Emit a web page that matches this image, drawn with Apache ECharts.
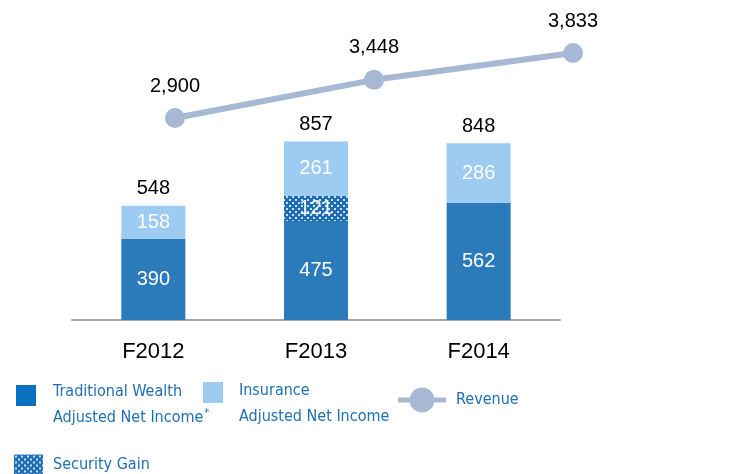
<!DOCTYPE html>
<html>
<head>
<meta charset="utf-8">
<script src="https://cdn.jsdelivr.net/npm/echarts@6/dist/echarts.min.js"></script>
<style>
  html, body { margin: 0; padding: 0; background: #fff; }
  #chart { width: 748px; height: 474px; }
</style>
</head>
<body>
<div id="chart"></div>
<script>
const categories = ['F2012', 'F2013', 'F2014'];
const traditional = [390, 475, 562];
const securityGain = [null, 121, null];
const insurance = [158, 261, 286];
const totals = [548, 857, 848];
const revenue = [2900, 3448, 3833];

const darkBlue = '#2b7bba';
const lightBlue = '#9dcbf1';
const lineColor = '#a7b8d5';
const legendBlue = '#1f6fb4';
const numFont = '"Liberation Sans", Arial, sans-serif';
const legendFont = '"DejaVu Sans Condensed", sans-serif';

// dotted fill for the security gain block
const makeDots = () => {
  const c = document.createElement('canvas');
  c.width = 6;
  c.height = 6;
  const ctx = c.getContext('2d');
  ctx.fillStyle = '#1f6db5';
  ctx.fillRect(0, 0, 6, 6);
  ctx.fillStyle = 'rgba(235,245,255,0.85)';
  ctx.fillRect(1, 1, 2, 2);
  ctx.fillRect(4, 4, 2, 2);
  return c;
};
const dots = { image: makeDots(), repeat: 'repeat' };

const chart = echarts.init(document.getElementById('chart'));

const legendText = {
  color: legendBlue,
  fontFamily: legendFont,
  fontSize: 16,
  lineHeight: 26,
};
const numLabel = { fontFamily: numFont, fontSize: 20 };

const option = {
  animation: false,
  grid: [
    { left: 72, width: 488, top: 20, height: 300 },
    { left: 175, width: 398, top: 20, height: 300 }
  ],
  xAxis: [
    {
      type: 'category',
      gridIndex: 0,
      data: categories,
      axisLine: { lineStyle: { color: '#a6a6a6', width: 2 } },
      axisTick: { show: false },
      axisLabel: { color: '#000', fontFamily: numFont, fontSize: 22, margin: 21 }
    },
    {
      type: 'category',
      gridIndex: 1,
      data: categories,
      boundaryGap: false,
      show: false
    }
  ],
  yAxis: [
    { type: 'value', gridIndex: 0, min: 0, max: 1440, show: false, splitLine: { show: false } },
    { type: 'value', gridIndex: 1, min: 0, max: 4307, show: false, splitLine: { show: false } }
  ],
  legend: [
    {
      left: 16, top: 360, padding: 0, itemWidth: 20, itemHeight: 21, icon: 'rect',
      data: [{ name: 'Traditional Wealth', itemStyle: { color: '#0a70c0' } }],
      formatter: () => '{a|Traditional Wealth}\n{a|Adjusted Net Income}{s|*}',
      textStyle: Object.assign({}, legendText, {
        padding: [19, 0, 0, 12],
        rich: {
          a: legendText,
          s: { color: legendBlue, fontFamily: legendFont, fontSize: 11, padding: [0, 0, 10, 1] }
        }
      })
    },
    {
      left: 203, top: 355.5, padding: 0, itemWidth: 20, itemHeight: 21, icon: 'rect',
      data: ['Insurance'],
      formatter: () => '{a|Insurance}\n{a|Adjusted Net Income}',
      textStyle: Object.assign({}, legendText, {
        padding: [22, 0, 0, 11],
        rich: { a: legendText }
      })
    },
    {
      left: 398, top: 386, padding: 0, itemWidth: 48, itemHeight: 25,
      icon: 'path://M0,10L48,10L48,15L0,15Z M36.5,12.5A12.5,12.5 0 1 1 11.5,12.5A12.5,12.5 0 1 1 36.5,12.5Z',
      data: [{ name: 'Revenue', itemStyle: { color: lineColor } }],
      textStyle: Object.assign({}, legendText, { padding: [2, 0, 0, 5] })
    },
    {
      left: 14, top: 449, padding: 0, itemWidth: 29, itemHeight: 20, icon: 'rect',
      data: ['Security Gain'],
      textStyle: Object.assign({}, legendText, { padding: [5, 0, 0, 5] })
    }
  ],
  series: [
    {
      name: 'Traditional Wealth',
      type: 'bar',
      stack: 'ni',
      barWidth: 64,
      data: traditional,
      itemStyle: { color: darkBlue },
      label: Object.assign({ show: true, position: 'inside', color: '#fff' }, numLabel)
    },
    {
      name: 'Security Gain',
      type: 'bar',
      stack: 'ni',
      barWidth: 64,
      data: securityGain,
      itemStyle: { color: dots },
      label: Object.assign({ show: true, position: 'inside', color: '#fff' }, numLabel)
    },
    {
      name: 'Insurance',
      type: 'bar',
      stack: 'ni',
      barWidth: 64,
      data: insurance,
      itemStyle: { color: lightBlue },
      label: Object.assign({ show: true, position: 'inside', color: '#fff' }, numLabel)
    },
    {
      name: 'Total',
      type: 'scatter',
      symbolSize: 0,
      data: totals,
      itemStyle: { opacity: 1 },
      label: Object.assign({ show: true, position: 'top', distance: 7, color: '#000' }, numLabel)
    },
    {
      name: 'Revenue',
      type: 'line',
      xAxisIndex: 1,
      yAxisIndex: 1,
      data: revenue,
      symbol: 'circle',
      symbolSize: 20,
      lineStyle: { color: lineColor, width: 6 },
      itemStyle: { color: lineColor },
      label: Object.assign({
        show: true, position: 'top', distance: 12, color: '#000',
        formatter: p => p.value.toLocaleString('en-US')
      }, numLabel)
    }
  ]
};

chart.setOption(option);
</script>
</body>
</html>
